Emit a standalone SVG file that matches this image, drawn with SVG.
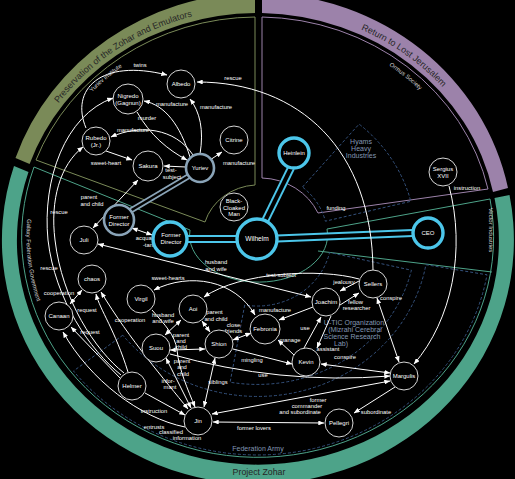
<svg xmlns="http://www.w3.org/2000/svg" width="515" height="479" viewBox="0 0 515 479">
<defs>
<marker id="ah" viewBox="0 0 10 8" refX="9.5" refY="4" markerWidth="6" markerHeight="4.8" markerUnits="userSpaceOnUse" orient="auto-start-reverse"><path d="M0,0 L10,4 L0,8 z" fill="#fff"/></marker>
<path id="tpG" d="M45.3,122.5 A245,229 0 0 1 215,11.5"/>
<path id="tpP" d="M320.9,15.8 A245,229 0 0 1 468.6,120.8"/>
<path id="tpY" d="M78,108 A228,213 0 0 1 140,55.5"/>
<path id="tpO" d="M370.5,54.3 A227,212 0 0 1 434.6,105.9"/>
<path id="tpGF" d="M30,199.6 A231,215.5 0 0 0 44.2,319.8"/>
</defs>
<style>
.bg{fill:#000}
.n{fill:#000;stroke:#d6d6d6;stroke-width:1}
.ny{fill:#000;stroke:#8aa4b8;stroke-width:2.6}
.nc{fill:#000;stroke:#4cc6ea;stroke-width:3.4}
.t{font-family:"Liberation Sans",Arial,sans-serif;font-size:6px;fill:#fff;text-anchor:middle}
.l{font-family:"Liberation Sans",Arial,sans-serif;font-size:5.8px;fill:#fff;text-anchor:middle}
.e{fill:none;stroke:#fff;stroke-width:1;marker-end:url(#ah)}
.d{fill:none;stroke:#fff;stroke-width:1;marker-end:url(#ah);marker-start:url(#ah)}
.band{font-family:"Liberation Sans",Arial,sans-serif;font-size:9px;fill:#262626}
.sub{font-family:"Liberation Sans",Arial,sans-serif;font-size:6px;fill:#d8d8d8}
.org{font-family:"Liberation Sans",Arial,sans-serif;font-size:7px;fill:#8397b3;text-anchor:middle}
.gO{fill:none;stroke:#7a8a58;stroke-width:1}
.pO{fill:none;stroke:#9c82aa;stroke-width:1}
.tO{fill:none;stroke:#4da389;stroke-width:1}
.dash{fill:none;stroke:#34517c;stroke-width:1;stroke-dasharray:3,2}
.pc1{fill:none;stroke:#4cc6ea;stroke-width:8}
.pc2{fill:none;stroke:#000;stroke-width:4}
.pg1{fill:none;stroke:#8aa4b8;stroke-width:6}
.pg2{fill:none;stroke:#000;stroke-width:2.6}
</style>
<rect class="bg" x="0" y="0" width="515" height="479"/>

<g id="bands">
<path d="M255,-7 A256,244 0 0 0 15.5,158 L29.6,164 A241,224 0 0 1 255,13 Z" fill="#7a8a58"/>
<path d="M262,-7 A256,244 0 0 1 508,188 L493,192 A241,224 0 0 0 262,13 Z" fill="#9c82aa"/>
<path d="M14,166 A256,244 0 1 0 509.5,195 L494.5,198 A241,224 0 1 1 28.5,172 Z" fill="#4da389"/>
<text class="band"><textPath href="#tpG" startOffset="50%" text-anchor="middle">Preservation of the Zohar and Emulators</textPath></text>
<text class="band"><textPath href="#tpP" startOffset="50%" text-anchor="middle">Return to Lost Jerusalem</textPath></text>
<text class="band" x="259" y="475" text-anchor="middle" style="font-size:8.8px">Project Zohar</text>
</g>

<g id="regions">
<path class="gO" d="M36,160 A236,220 0 0 1 255,17 L255,185 A56,52 0 0 0 205,222 Z"/>
<path class="pO" d="M262,17 A236,220 0 0 1 488,189 L318,213 A64,60 0 0 0 262,178 Z"/>
<path class="tO" d="M34,167 A236,220 0 1 0 490,199 L327,229 A69,47 0 1 1 190,230 Z"/>
<path class="tO" d="M318,251 L492,272"/>
<path class="dash" d="M302.5,187 L359.1,124.1 A158,147.4 0 0 1 410.8,201.3 L325.4,221.2 A70,65.3 0 0 0 302.5,187 Z"/>
<path class="dash" d="M244.7,305 L230.1,382.2 A158,147.4 0 0 0 411.4,270.2 L329.6,252.5 A74,69 0 0 1 244.7,305 Z"/>
<path class="dash" d="M122.8,335.2 L73.5,371 A233,217.4 0 0 0 487,274.8 L425.9,264.7 A171,159.5 0 0 1 122.8,335.2 Z"/>
<text class="sub"><textPath href="#tpY" startOffset="50%" text-anchor="middle">Yuriev Institute</textPath></text>
<text class="sub"><textPath href="#tpO" startOffset="50%" text-anchor="middle">Ormus Society</textPath></text>
<text class="sub"><textPath href="#tpGF" startOffset="50%" text-anchor="middle">Galaxy Federation Government</textPath></text>
<text class="sub" x="489" y="230" text-anchor="middle" transform="rotate(90 489 230)">Vector Industries</text>
<text class="org" x="361" y="144">Hyams</text>
<text class="org" x="361" y="151">Heavy</text>
<text class="org" x="361" y="158">Industries</text>
<text class="org" x="354" y="324.5">U-TIC Organization</text>
<text class="org" x="355" y="331.5">(Mizrahi Cerebral</text>
<text class="org" x="352" y="338.5">Science Research</text>
<text class="org" x="341" y="345.5">Lab)</text>
<text class="org" x="258" y="450.5">Federation Army</text>
<text class="l" x="336" y="210">funding</text>
</g>

<g id="connectors">
<path class="pg1" d="M130,211 L189,176"/><path class="pg2" d="M130,211 L189,176"/>
<path class="pc1" d="M291,168 L265,221"/><path class="pc2" d="M291,168 L265,221"/>
<path class="pc1" d="M277,238.5 L413,233"/><path class="pc2" d="M277,238.5 L413,233"/>
<path class="pc1" d="M237,239 L187,239"/><path class="pc2" d="M237,239 L187,239"/>
<path class="e" d="M86,128 C70,90 100,58 167,75"/><text class="l" x="140" y="66.5">twins</text>
<path class="e" d="M373,270 C372,150 300,82 197,82"/><text class="l" x="233" y="80">rescue</text>
<path class="e" d="M200,154 C204,130 200,112 190,99"/><text class="l" x="216" y="109">manufacture</text>
<path class="e" d="M190,157 C180,125 165,105 144,101"/><text class="l" x="172" y="105.5">manufacture</text>
<path class="e" d="M137,112 C150,135 168,150 187,160"/><text class="l" x="147" y="120">murder</text>
<path class="e" d="M193,155 C175,128 140,124 111,137"/><text class="l" x="133" y="132">manufacture</text>
<path class="e" d="M106,151 L132,160"/><text class="l" x="106" y="165">sweet-heart</text>
<path class="e" d="M186,167 L164,166"/><text class="l" x="171" y="172">test-</text><text class="l" x="172" y="179">subject</text>
<path class="d" d="M138,180 L93,228"/><text class="l" x="89" y="199">parent</text><text class="l" x="92" y="205.5">and child</text>
<path class="e" d="M210,160 L222,152"/><text class="l" x="239" y="165">manufacture</text>
<path class="d" d="M132,228 L152,235"/><text class="l" x="146" y="240">acquain</text><text class="l" x="151" y="247">-tance</text>
<path class="e" d="M121,375 C90,350 55,300 48,240 C42,180 65,115 113,98"/><text class="l" x="59" y="214">rescue</text>
<path class="e" d="M124,373 C95,350 62,300 55,240 C50,200 60,165 83,147"/><text class="l" x="49" y="270">rescue</text>
<path class="d" d="M98,244 L311,297"/><text class="l" x="216" y="264">husband</text><text class="l" x="216" y="270.5">and wife</text>
<path class="d" d="M154,290 C190,272 235,280 255,315"/><text class="l" x="168" y="280">sweet-hearts</text>
<path class="e" d="M359,279 C320,268 240,272 204,297"/><text class="l" x="281" y="277">test-subject</text>
<path class="e" d="M359,281 L340,291"/><text class="l" x="344" y="284">jealousy</text>
<path class="e" d="M340,305 L359,293"/><text class="l" x="355.5" y="304">fellow</text><text class="l" x="356.5" y="310">researcher</text>
<path class="d" d="M377,298 L399,362"/><text class="l" x="391" y="300">conspire</text>
<path class="d" d="M165,335 L181,320"/><text class="l" x="163" y="317">husband</text><text class="l" x="163" y="323">and wife</text>
<path class="d" d="M202,321 L210,332"/><text class="l" x="214.5" y="314">parent</text><text class="l" x="216" y="320.5">and child</text>
<path class="d" d="M170,350 L205,349"/><text class="l" x="181" y="337">parent</text><text class="l" x="181" y="343">and</text><text class="l" x="181" y="349">child</text>
<path class="d" d="M233,340 L251,333"/><text class="l" x="233.5" y="327">close</text><text class="l" x="233.5" y="333">friends</text>
<path class="e" d="M313,307 L279,320"/><text class="l" x="275" y="312">manufacture</text>
<path class="e" d="M304,348 L321,317"/><text class="l" x="305" y="330">use</text>
<path class="e" d="M331,316 L317,348"/><text class="l" x="328" y="351">assistant</text>
<path class="e" d="M294,355 L278,340"/><text class="l" x="290" y="342">manage</text>
<path class="d" d="M390,373 L321,364"/><text class="l" x="345" y="359">conspire</text>
<path class="e" d="M233,349 L292,364"/><text class="l" x="252" y="362">mingling</text>
<path class="e" d="M170,354 Q280,385 390,376"/><text class="l" x="263" y="377">use</text>
<path class="e" d="M449,186 C466,250 452,320 414,364"/><text class="l" x="467" y="190">instruction</text>
<path class="e" d="M395,387 L354,413"/><text class="l" x="376" y="414">subordinate</text>
<path class="d" d="M390,381 L212,414"/><text class="l" x="318" y="402">former</text><text class="l" x="307" y="408">commander</text><text class="l" x="300" y="414">and subordinate</text>
<path class="d" d="M213,422 L324,423"/><text class="l" x="254" y="430">former lovers</text>
<path class="e" d="M145,393 L185,415"/><text class="l" x="154" y="413">instruction</text>
<path class="e" d="M185,427 C140,418 90,380 63,332"/><text class="l" x="154" y="429">entrusts</text><text class="l" x="171" y="434">classified</text><text class="l" x="187" y="440">information</text>
<path class="d" d="M70,304 L82,290"/><text class="l" x="59" y="295">cooperation</text>
<path class="e" d="M128,372 C115,330 100,310 96,294"/><text class="l" x="87" y="312">request</text>
<path class="e" d="M120,378 L71,327"/><text class="l" x="90" y="334">request</text>
<path class="d" d="M101,292 C130,340 165,380 188,409"/><text class="l" x="130" y="322">cooperation</text>
<path class="d" d="M204,407 L215,358"/><text class="l" x="218" y="384">siblings</text>
<path class="d" d="M166,358 L191,408"/><text class="l" x="182" y="363">parent</text><text class="l" x="182" y="369">and</text><text class="l" x="183" y="376">child</text>
<path class="e" d="M152,310 C165,325 175,335 177,350 C179,370 188,390 195,407"/><text class="l" x="168" y="383">infor-</text><text class="l" x="170" y="389">mant</text>
</g>

<g id="albedo"><circle class="n" cx="181" cy="84" r="14"/><text class="t" x="181" y="86">Albedo</text></g>
<g id="nigredo"><circle class="n" cx="128" cy="99" r="15"/><text class="t" x="128" y="97.5">Nigredo</text><text class="t" x="128" y="105">(Gagnun)</text></g>
<g id="rubedo"><circle class="n" cx="96" cy="141" r="14"/><text class="t" x="96" y="139.5">Rubedo</text><text class="t" x="96" y="147">(Jr.)</text></g>
<g id="sakura"><circle class="n" cx="148" cy="166" r="15"/><text class="t" x="148" y="168">Sakura</text></g>
<g id="yuriev"><circle class="ny" cx="200" cy="168" r="14"/><text class="t" x="200" y="170">Yuriev</text></g>
<g id="citrine"><circle class="n" cx="234" cy="140" r="14"/><text class="t" x="234" y="142">Citrine</text></g>
<g id="heinlein"><circle class="nc" cx="294" cy="153" r="15"/><text class="t" x="294" y="155">Heinlein</text></g>
<g id="bcm"><circle class="n" cx="234" cy="207" r="14"/><text class="t" x="234" y="203">Black-</text><text class="t" x="234" y="209.5">Cloaked</text><text class="t" x="234" y="216">Man</text></g>
<g id="wilhelm"><circle class="nc" cx="257" cy="239" r="20"/><text class="t" x="257" y="241.2" style="font-size:6.6px">Wilhelm</text></g>
<g id="fdir1"><circle class="ny" cx="119" cy="220" r="15"/><text class="t" x="119" y="218.5">Former</text><text class="t" x="119" y="225.5">Director</text></g>
<g id="fdir2"><circle class="nc" cx="170" cy="239" r="17"/><text class="t" x="171" y="237">Former</text><text class="t" x="171" y="244">Director</text></g>
<g id="ceo"><circle class="nc" cx="428" cy="233" r="15"/><text class="t" x="428" y="235">CEO</text></g>
<g id="sergius"><circle class="n" cx="443" cy="172" r="14"/><text class="t" x="443" y="171">Sergius</text><text class="t" x="443" y="177.5">XVII</text></g>
<g id="juli"><circle class="n" cx="84" cy="240" r="14"/><text class="t" x="84" y="242">Juli</text></g>
<g id="chaos"><circle class="n" cx="92" cy="279" r="14"/><text class="t" x="92" y="281">chaos</text></g>
<g id="canaan"><circle class="n" cx="59" cy="316" r="14"/><text class="t" x="59" y="318">Canaan</text></g>
<g id="virgil"><circle class="n" cx="141" cy="299" r="14"/><text class="t" x="141" y="301">Virgil</text></g>
<g id="suou"><circle class="n" cx="156" cy="348" r="14"/><text class="t" x="156" y="350">Suou</text></g>
<g id="aoi"><circle class="n" cx="193" cy="309" r="14"/><text class="t" x="193" y="311">Aoi</text></g>
<g id="shion"><circle class="n" cx="219" cy="344" r="14"/><text class="t" x="219" y="346">Shion</text></g>
<g id="febronia"><circle class="n" cx="265" cy="329" r="15"/><text class="t" x="265" y="331">Febronia</text></g>
<g id="joachim"><circle class="n" cx="326" cy="302" r="14"/><text class="t" x="326" y="304">Joachim</text></g>
<g id="sellers"><circle class="n" cx="373" cy="284" r="14"/><text class="t" x="373" y="286">Sellers</text></g>
<g id="kevin"><circle class="n" cx="306" cy="362" r="14"/><text class="t" x="306" y="364">Kevin</text></g>
<g id="margulis"><circle class="n" cx="404" cy="376" r="14"/><text class="t" x="404" y="378">Margulis</text></g>
<g id="pellegri"><circle class="n" cx="339" cy="423" r="14"/><text class="t" x="339" y="425">Pellegri</text></g>
<g id="jin"><circle class="n" cx="198" cy="421" r="14"/><text class="t" x="198" y="423">Jin</text></g>
<g id="helmer"><circle class="n" cx="132" cy="386" r="14"/><text class="t" x="132" y="388">Helmer</text></g>
</svg>
